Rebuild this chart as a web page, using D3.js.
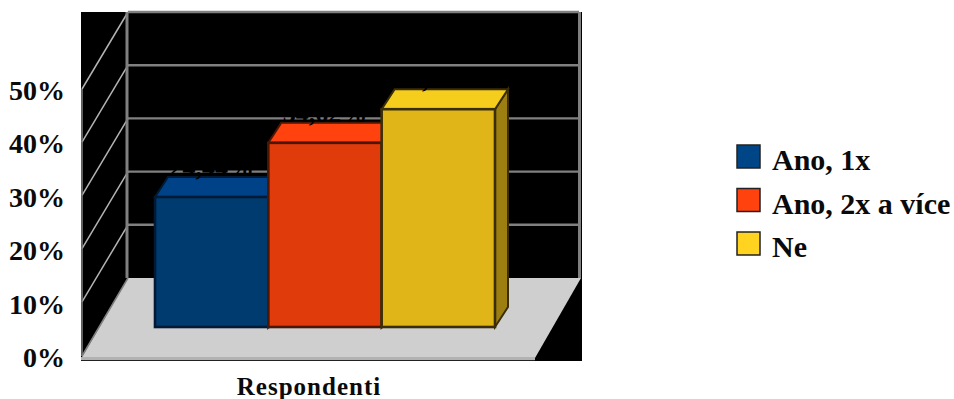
<!DOCTYPE html>
<html>
<head>
<meta charset="utf-8">
<script src="https://cdn.jsdelivr.net/npm/d3@7/dist/d3.min.js"></script>
<style>
html,body{margin:0;padding:0;background:#fff;}
svg{display:block;}
text{font-family:"Liberation Serif",serif;font-weight:bold;}
</style>
</head>
<body>
<svg id="chart" width="954" height="399"></svg>
<script>
// Survey answers, share of respondents (%)
const categories = ["Ano, 1x", "Ano, 2x a více", "Ne"];
const shares = [24.44, 34.62, 40.94];
const shareLabels = ["24,44%", "34,62%", "40,94%"];
const groupLabel = "Respondenti";
const tickValues = [0, 10, 20, 30, 40, 50];
const faceColors = ["#003b70", "#e03b0a", "#e0b518"];
const topColors = ["#004288", "#ff420e", "#f5cd1c"];
const sideColors = ["#002a50", "#a02a07", "#9c7f10"];
const edgeColors = ["#001a36", "#4c1604", "#3a2e08"];
const legendColors = ["#004586", "#ff420e", "#ffd320"];

const svg = d3.select("#chart");

// Oblique projection: depth shifts every point right and up
const wallDx = 46, wallDy = -75;
const barDx = 13, barDy = -20;
const frontLeft = 82, frontRight = 535, frontBase = 353;

const yAxis = d3.scaleLinear().domain([0, 50]).range([frontBase, 87]);
const yTick = d3.scaleLinear().domain([0, 50]).range([367, 100]);
const barBase = 327;
const yBar = d3.scaleLinear().domain([0, 50]).range([barBase, barBase - 266]);
const xBar = d3.scaleBand().domain(categories).range([155, 495]).padding(0);
const pts = a => a.map(p => p.join(",")).join(" ");

// Black panel behind the plot
svg.append("rect").attr("x", 81).attr("y", 12).attr("width", 501).attr("height", 349).attr("fill", "#000");

// Floor with its darker front lip
svg.append("polygon")
  .attr("points", pts([[frontLeft, frontBase + 4], [frontLeft + wallDx, 278], [581, 278], [frontRight, 358], [frontLeft, 358]]))
  .attr("fill", "#cfcfcf");
svg.append("rect").attr("x", 81).attr("y", 357).attr("width", 454).attr("height", 3).attr("fill", "#b2b2b2");
svg.append("line").attr("x1", 81).attr("x2", 535).attr("y1", 360.5).attr("y2", 360.5).attr("stroke", "#222").attr("stroke-width", 1);

// Gridlines on the back wall and their runs along the side wall
const grid = svg.append("g");
tickValues.forEach(t => {
  const y = yAxis(t);
  if (t > 0) {
    grid.append("line")
      .attr("x1", frontLeft + wallDx).attr("x2", 579)
      .attr("y1", y + wallDy).attr("y2", y + wallDy)
      .attr("stroke", "#808080").attr("stroke-width", 2.4);
    grid.append("line")
      .attr("x1", frontLeft).attr("x2", frontLeft + wallDx)
      .attr("y1", y + 2).attr("y2", y + wallDy)
      .attr("stroke", "#b4b4b4").attr("stroke-width", 1.5);
  }
});
grid.append("line").attr("x1", 127).attr("x2", 127).attr("y1", 12).attr("y2", 278).attr("stroke", "#808080").attr("stroke-width", 3);
grid.append("line").attr("x1", 579.5).attr("x2", 579.5).attr("y1", 12).attr("y2", 278).attr("stroke", "#808080").attr("stroke-width", 3);
grid.append("line").attr("x1", 82).attr("x2", 82).attr("y1", yAxis(50) + 2).attr("y2", frontBase + 3).attr("stroke", "#808080").attr("stroke-width", 1.5);
grid.append("line").attr("x1", 82).attr("x2", 128).attr("y1", frontBase + 3).attr("y2", 278).attr("stroke", "#808080").attr("stroke-width", 1.5);

// Bars, back to front: top and side faces first, then the front face
const bars = svg.append("g").selectAll("g").data(categories).join("g");
bars.append("polygon")
  .attr("points", (d, i) => {
    const x1 = xBar(d) + xBar.bandwidth(), t = yBar(shares[i]);
    return pts([[x1, t], [x1 + barDx, t + barDy], [x1 + barDx, barBase + barDy], [x1, barBase]]);
  })
  .attr("fill", (d, i) => sideColors[i]).attr("stroke", (d, i) => edgeColors[i]).attr("stroke-width", 2);
bars.append("polygon")
  .attr("points", (d, i) => {
    const x0 = xBar(d), x1 = x0 + xBar.bandwidth(), t = yBar(shares[i]);
    return pts([[x0, t], [x0 + barDx, t + barDy], [x1 + barDx, t + barDy], [x1, t]]);
  })
  .attr("fill", (d, i) => topColors[i]).attr("stroke", (d, i) => edgeColors[i]).attr("stroke-width", 2);
bars.append("rect")
  .attr("x", d => xBar(d)).attr("width", xBar.bandwidth())
  .attr("y", (d, i) => yBar(shares[i])).attr("height", (d, i) => barBase - yBar(shares[i]))
  .attr("fill", (d, i) => faceColors[i]).attr("stroke", (d, i) => edgeColors[i]).attr("stroke-width", 2.6);

// Value labels, printed black above each bar and centred on its front face
svg.append("g").selectAll("text").data(categories).join("text")
  .attr("x", d => xBar(d) + xBar.bandwidth() / 2)
  .attr("y", (d, i) => yBar(shares[i]) + barDy - 1)
  .attr("text-anchor", "middle").attr("font-size", 26).attr("fill", "#000")
  .text((d, i) => shareLabels[i]);

// Percentage axis labels
svg.append("g").selectAll("text").data(tickValues).join("text")
  .attr("x", 65).attr("y", d => yTick(d))
  .attr("text-anchor", "end").attr("font-size", 28).attr("fill", "#0a0a0a")
  .text(d => d + "%");

// Category axis label
svg.append("text").attr("x", 309).attr("y", 395).attr("text-anchor", "middle")
  .attr("font-size", 25).attr("letter-spacing", 1).attr("fill", "#0a0a0a").text(groupLabel);

// Legend
const legendY = d3.scalePoint().domain(categories).range([145, 232]);
const legend = svg.append("g").selectAll("g").data(categories).join("g");
legend.append("rect").attr("x", 737).attr("y", d => legendY(d)).attr("width", 23).attr("height", 23)
  .attr("fill", (d, i) => legendColors[i]).attr("stroke", "#222").attr("stroke-width", 1.5);
legend.append("text").attr("x", 772).attr("y", d => legendY(d) + 25)
  .attr("font-size", 30).attr("fill", "#0a0a0a").text(d => d);
</script>
</body>
</html>
